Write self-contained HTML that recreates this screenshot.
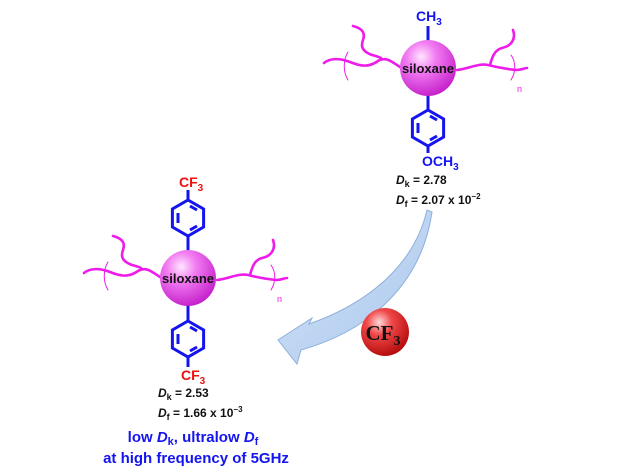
<!DOCTYPE html>
<html><head><meta charset="utf-8"><style>
html,body{margin:0;padding:0;background:#fff;}
svg{display:block;font-family:"Liberation Sans",Arial,sans-serif;}
</style></head><body>
<svg width="626" height="474" viewBox="0 0 626 474" xmlns="http://www.w3.org/2000/svg">
<defs>
<radialGradient id="pk" cx="0.38" cy="0.3" r="0.75">
<stop offset="0" stop-color="#ffe6ff"/><stop offset="0.35" stop-color="#f27cf2"/><stop offset="1" stop-color="#c21bc8"/>
</radialGradient>
<radialGradient id="rd" cx="0.38" cy="0.3" r="0.75">
<stop offset="0" stop-color="#ffdada"/><stop offset="0.35" stop-color="#f04848"/><stop offset="1" stop-color="#b00808"/>
</radialGradient>
<linearGradient id="ar" x1="0" y1="0" x2="1" y2="1">
<stop offset="0" stop-color="#d4e4f8"/><stop offset="1" stop-color="#a9c7ec"/>
</linearGradient>
<g id="chains" fill="none" stroke="#ee1bea" stroke-width="2.6" stroke-linecap="round">
<path d="M84,273 C90,268 100,268 110,272 C120,276 128,278 138,271 C146,266 152,272 160,277"/>
<path d="M113,236 C120,238 126,241 123,250 C120,258 124,262 132,265 C136,266 139,267 141,268"/>
<path d="M217,280 C228,279 238,273 248,275 C256,277 266,279 276,280 C282,280 284,278 287,278"/>
<path d="M273,240 C276,248 272,256 262,258 C254,260 252,268 250,275"/>
<path d="M108,262 C103,270 103,282 108,290" stroke-width="1"/>
<path d="M271,265 C276,272 276,282 271,290" stroke-width="1"/>
</g>
<g id="ring" fill="none" stroke="#1414f0" stroke-width="3">
<polygon points="0,-18 15.6,-9 15.6,9 0,18 -15.6,9 -15.6,-9"/>
<line x1="-10" y1="-5" x2="-10" y2="5"/>
<line x1="2" y1="-12" x2="9" y2="-8"/>
<line x1="2" y1="12" x2="9" y2="8"/>
</g>
</defs>

<!-- top molecule -->
<use href="#chains" transform="translate(240,-210)"/>
<line x1="428" y1="26" x2="428" y2="42" stroke="#1414f0" stroke-width="3"/>
<line x1="428" y1="94" x2="428" y2="110" stroke="#1414f0" stroke-width="3"/>
<use href="#ring" transform="translate(428,128)"/>
<line x1="428" y1="146" x2="428" y2="153" stroke="#1414f0" stroke-width="3"/>
<circle cx="428" cy="68" r="28" fill="url(#pk)"/>
<text x="428" y="73" font-size="13" font-weight="bold" text-anchor="middle" fill="#111">siloxane</text>
<text x="416" y="21" font-size="14" font-weight="bold" fill="#1414f0">CH<tspan font-size="10" dy="4">3</tspan></text>
<text x="422" y="166" font-size="14" font-weight="bold" fill="#1414f0">OCH<tspan font-size="10" dy="4">3</tspan></text>
<text x="396" y="184" font-size="12" font-weight="bold" fill="#111"><tspan font-style="italic">D</tspan><tspan font-size="9" dy="3">k</tspan><tspan dy="-3"> = 2.78</tspan></text>
<text x="396" y="204" font-size="12" font-weight="bold" fill="#111"><tspan font-style="italic">D</tspan><tspan font-size="9" dy="3">f</tspan><tspan dy="-3"> = 2.07 x 10</tspan><tspan font-size="8" dy="-5">−2</tspan></text>

<!-- arrow -->
<path d="M427,210 C415,262 372,302 309,324 L312,318 L278,340 L297,364 L301,350 C372,330 422,282 432,212 Z" fill="url(#ar)" stroke="#8fb0da" stroke-width="1"/>
<circle cx="385" cy="332" r="24" fill="url(#rd)"/>
<text x="383" y="340" font-size="21" font-weight="bold" text-anchor="middle" font-family="Liberation Serif,serif" fill="#111">CF<tspan font-size="14" dy="5">3</tspan></text>

<!-- bottom molecule -->
<use href="#chains"/>
<text x="277" y="302" font-size="9" fill="#ee1bea">n</text>
<text x="517" y="92" font-size="9" fill="#ee1bea">n</text>
<line x1="188" y1="190" x2="188" y2="200" stroke="#1414f0" stroke-width="3"/>
<use href="#ring" transform="translate(188,218)"/>
<line x1="188" y1="236" x2="188" y2="252" stroke="#1414f0" stroke-width="3"/>
<line x1="188" y1="304" x2="188" y2="321" stroke="#1414f0" stroke-width="3"/>
<use href="#ring" transform="translate(188,339)"/>
<line x1="188" y1="357" x2="188" y2="367" stroke="#1414f0" stroke-width="3"/>
<circle cx="188" cy="278" r="28" fill="url(#pk)"/>
<text x="188" y="283" font-size="13" font-weight="bold" text-anchor="middle" fill="#111">siloxane</text>
<text x="179" y="187" font-size="14" font-weight="bold" fill="#ee1010">CF<tspan font-size="10" dy="4">3</tspan></text>
<text x="181" y="380" font-size="14" font-weight="bold" fill="#ee1010">CF<tspan font-size="10" dy="4">3</tspan></text>
<text x="158" y="397" font-size="12" font-weight="bold" fill="#111"><tspan font-style="italic">D</tspan><tspan font-size="9" dy="3">k</tspan><tspan dy="-3"> = 2.53</tspan></text>
<text x="158" y="417" font-size="12" font-weight="bold" fill="#111"><tspan font-style="italic">D</tspan><tspan font-size="9" dy="3">f</tspan><tspan dy="-3"> = 1.66 x 10</tspan><tspan font-size="8" dy="-5">−3</tspan></text>
<text x="193" y="442" font-size="15" font-weight="bold" text-anchor="middle" fill="#1414f0">low <tspan font-style="italic">D</tspan><tspan font-size="11" dy="3">k</tspan><tspan dy="-3">, ultralow </tspan><tspan font-style="italic">D</tspan><tspan font-size="11" dy="3">f</tspan></text>
<text x="196" y="463" font-size="15" font-weight="bold" text-anchor="middle" fill="#1414f0">at high frequency of 5GHz</text>
</svg>
</body></html>
